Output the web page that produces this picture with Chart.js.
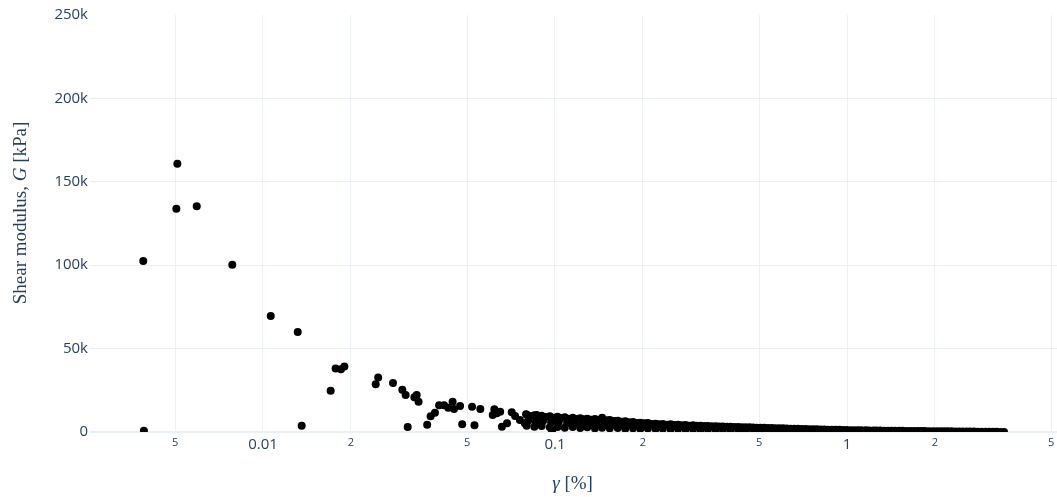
<!DOCTYPE html>
<html>
<head>
<meta charset="utf-8">
<script src="https://cdn.jsdelivr.net/npm/chart.js@4/dist/chart.umd.min.js"></script>
<style>
html,body{margin:0;padding:0;background:#fff;overflow:hidden;}
#wrap{width:1057px;height:497px;position:relative;overflow:hidden;}
canvas{display:block;}
</style>
</head>
<body>
<div id="wrap"><canvas id="c" width="1057" height="497"></canvas></div>
<script>
// ---- data (strain gamma in %, shear modulus G in kPa) ----
const sparseX = [0.00389, 0.00391, 0.00509, 0.00505, 0.00593, 0.00785, 0.01063, 0.01315, 0.01357, 0.01705,
  0.01773, 0.0185, 0.0190, 0.02432, 0.0248, 0.02787, 0.0300, 0.0308, 0.0313, 0.0330,
  0.0336, 0.0341, 0.0365, 0.0375, 0.0388, 0.0401, 0.0417, 0.0431, 0.0446, 0.0451,
  0.0473, 0.0481, 0.0520, 0.0530, 0.0555, 0.0612, 0.0620, 0.0632, 0.0649, 0.0658,
  0.0685, 0.0711, 0.0730, 0.0758, 0.0788, 0.0796, 0.0865, 0.0977];
const sparseY = [102500, 800, 160800, 133800, 135400, 100200, 69600, 60000, 3800, 24800,
  38000, 37600, 39200, 28600, 32600, 29400, 25400, 22200, 3000, 20800,
  22200, 18200, 4400, 9400, 11600, 16000, 16000, 14600, 18200, 13800,
  15600, 4600, 15200, 4000, 13800, 10200, 13600, 11200, 12200, 3200,
  5200, 11800, 9600, 7200, 5200, 10600, 10200, 800];

const bandX = [0.080, 0.082, 0.085, 0.087, 0.090, 0.093, 0.096, 0.099, 0.102, 0.105,
  0.108, 0.111, 0.115, 0.118, 0.122, 0.125, 0.129, 0.133, 0.137, 0.141,
  0.145, 0.150, 0.154, 0.159, 0.164, 0.169, 0.174, 0.179, 0.185, 0.190,
  0.196, 0.202, 0.208, 0.214, 0.221, 0.227, 0.234, 0.241, 0.249, 0.256,
  0.264, 0.272, 0.280, 0.288, 0.297, 0.306, 0.315, 0.325, 0.334, 0.344,
  0.355, 0.365, 0.376, 0.388, 0.399, 0.411, 0.424, 0.436, 0.449, 0.463,
  0.477, 0.491, 0.506, 0.521, 0.537, 0.553, 0.569, 0.586, 0.604, 0.622,
  0.641, 0.660, 0.680, 0.700, 0.721, 0.743, 0.765, 0.788, 0.812, 0.836,
  0.861, 0.887, 0.914, 0.941, 0.969, 0.998, 1.03, 1.06, 1.09, 1.12,
  1.16, 1.19, 1.23, 1.26, 1.30, 1.34, 1.38, 1.42, 1.46, 1.51,
  1.55, 1.60, 1.65, 1.70, 1.75, 1.80, 1.85, 1.91, 1.97, 2.03,
  2.09, 2.15, 2.21, 2.28, 2.35, 2.42, 2.49, 2.57, 2.64, 2.72,
  2.80, 2.89, 2.98, 3.07, 3.16, 3.25, 3.35, 3.45];
const bandUpperY = [10400, 9600, 10000, 9200, 9800, 9000, 9400, 8600, 9200, 8400,
  8800, 8000, 8600, 7800, 8200, 7600, 8000, 7400, 7800, 7200,
  8600, 7000, 7200, 6600, 6800, 6200, 6400, 5800, 6000, 5400,
  5600, 5200, 5400, 4800, 5000, 4600, 4800, 4400, 4600, 4200,
  4400, 4000, 4200, 3800, 4000, 3700, 3800, 3600, 3600, 3400,
  3500, 3300, 3300, 3200, 3100, 3000, 3000, 2900, 2800, 2800,
  2700, 2600, 2600, 2500, 2400, 2400, 2300, 2200, 2200, 2100,
  2000, 2000, 1900, 1800, 1800, 1700, 1700, 1600, 1500, 1500,
  1400, 1400, 1300, 1300, 1200, 1200, 1100, 1100, 1050, 1000,
  1000, 950, 900, 900, 850, 800, 800, 750, 750, 700,
  700, 650, 650, 600, 600, 550, 550, 500, 500, 480,
  450, 430, 400, 380, 350, 330, 300, 280, 250, 230,
  200, 180, 150, 130, 100, 80, 50, 30];

const lowerX = [0.080, 0.085, 0.090, 0.096, 0.102, 0.108, 0.115, 0.122, 0.129, 0.137,
  0.145, 0.154, 0.164, 0.174, 0.185, 0.196, 0.208, 0.221, 0.234, 0.249,
  0.264, 0.280, 0.297, 0.315, 0.334, 0.355, 0.376, 0.399, 0.424, 0.449,
  0.477, 0.506, 0.537, 0.569, 0.604, 0.641, 0.680, 0.721, 0.765, 0.812,
  0.861, 0.914, 0.969];
const lowerY = [3800, 3200, 3600, 2800, 3000, 2600, 3000, 2400, 2800, 2200,
  2600, 2200, 2400, 2000, 2200, 1900, 2100, 1800, 2000, 1700,
  1800, 1600, 1700, 1500, 1500, 1400, 1400, 1300, 1200, 1200,
  1100, 1000, 1000, 900, 900, 800, 800, 700, 700, 600,
  600, 500, 500];

const midX = [0.081, 0.086, 0.091, 0.097, 0.103, 0.110, 0.117, 0.124, 0.131, 0.139,
  0.148, 0.157, 0.167, 0.177, 0.188, 0.200];
const midY = [6800, 6400, 6600, 5800, 6000, 5400, 5600, 5000, 5200, 4600,
  4800, 4400, 4200, 4000, 3800, 3600];

const xTickValues = [0.005, 0.01, 0.02, 0.05, 0.1, 0.2, 0.5, 1, 2, 5];
const xTickLabels = ['5', '0.01', '2', '5', '0.1', '2', '5', '1', '2', '5'];
const yTickValues = [0, 50000, 100000, 150000, 200000, 250000];
const yTickLabels = ['0', '50k', '100k', '150k', '200k', '250k'];

// ---- build ----
function pts(xs, ys) {
  const n = Math.min(xs.length, ys.length);
  const out = [];
  for (let i = 0; i < n; i++) out.push({x: xs[i], y: ys[i]});
  return out;
}
const TXT = '#2a3f5f';
const GRID = '#EBF0F8';
const W = 1057, H = 497, PLOT_RIGHT = 1057;
const pointStyle = {
  showLine: false, pointRadius: 4, pointHoverRadius: 4,
  pointBackgroundColor: '#000', pointBorderWidth: 0, backgroundColor: '#000',
  borderColor: '#000', clip: 0
};

const titlePlugin = {
  id: 'titles',
  afterDraw(chart) {
    const ctx = chart.ctx;
    function drawSegs(segs, cx, cy, size, rot) {
      ctx.save();
      ctx.translate(cx, cy);
      ctx.rotate(rot);
      ctx.fillStyle = TXT;
      ctx.textBaseline = 'middle';
      ctx.textAlign = 'left';
      let total = 0;
      const ws = segs.map(s => {
        ctx.font = (s.it ? 'italic ' : '') + size + 'px "Liberation Serif", "DejaVu Serif", serif';
        const w = ctx.measureText(s.t).width; total += w; return w;
      });
      let x = -total / 2;
      segs.forEach((s, i) => {
        ctx.font = (s.it ? 'italic ' : '') + size + 'px "Liberation Serif", "DejaVu Serif", serif';
        ctx.fillText(s.t, x, 0);
        x += ws[i];
      });
      ctx.restore();
    }
    drawSegs([{t: 'Shear modulus, '}, {t: 'G', it: true}, {t: ' [kPa]'}], 21, 213, 19, -Math.PI / 2);
    drawSegs([{t: 'γ', it: true}, {t: ' [%]'}], 572.5, 484, 19, 0);
  }
};

const chart = new Chart(document.getElementById('c'), {
  type: 'scatter',
  data: {
    datasets: [
      Object.assign({data: pts(sparseX, sparseY)}, pointStyle),
      Object.assign({data: pts(bandX, bandUpperY)}, pointStyle),
      Object.assign({data: pts(midX, midY)}, pointStyle),
      Object.assign({data: pts(lowerX, lowerY)}, pointStyle)
    ]
  },
  options: {
    responsive: false,
    devicePixelRatio: 1,
    animation: false,
    layout: {autoPadding: false, padding: {left: 0, right: 0, top: 15, bottom: 0}},
    plugins: {legend: {display: false}, tooltip: {enabled: false}},
    scales: {
      x: {
        type: 'logarithmic',
        min: 0.002556, max: 5.238,
        afterBuildTicks(scale) { scale.ticks = xTickValues.map(v => ({value: v})); },
        afterFit(scale) { scale.height = 65; scale.paddingLeft = 0; scale.paddingRight = 0; },
        border: {display: false},
        grid: {color: GRID, lineWidth: 1, drawTicks: false},
        ticks: {
          autoSkip: false, maxRotation: 0, padding: 4, color: TXT,
          callback: (v, i) => xTickLabels[i],
          font: (c) => {
            const v = c.tick ? c.tick.value : 1;
            const major = Math.abs(Math.log10(v) - Math.round(Math.log10(v))) < 1e-6;
            return {family: '"Open Sans", sans-serif', size: major ? 15 : 11};
          }
        }
      },
      y: {
        type: 'linear',
        min: 0, max: 250000,
        afterBuildTicks(scale) { scale.ticks = yTickValues.map(v => ({value: v})); },
        afterFit(scale) { scale.width = 90; scale.paddingLeft = 0; scale.paddingRight = 0; },
        border: {display: false},
        grid: {
          drawTicks: false,
          color: (c) => (c.tick && c.tick.value === 250000) ? 'rgba(0,0,0,0)' : GRID,
          lineWidth: (c) => (c.tick && c.tick.value === 0) ? 2 : 1
        },
        ticks: {
          padding: 2, color: TXT,
          callback: (v, i) => yTickLabels[i],
          font: {family: '"Open Sans", sans-serif', size: 15}
        }
      }
    }
  },
  plugins: [titlePlugin]
});
// make the plot area reach the right edge of the page (extra canvas width is hidden)
const deficit = Math.round(PLOT_RIGHT - chart.chartArea.right);
if (deficit > 0) chart.resize(W + deficit, H);
</script>
</body>
</html>
